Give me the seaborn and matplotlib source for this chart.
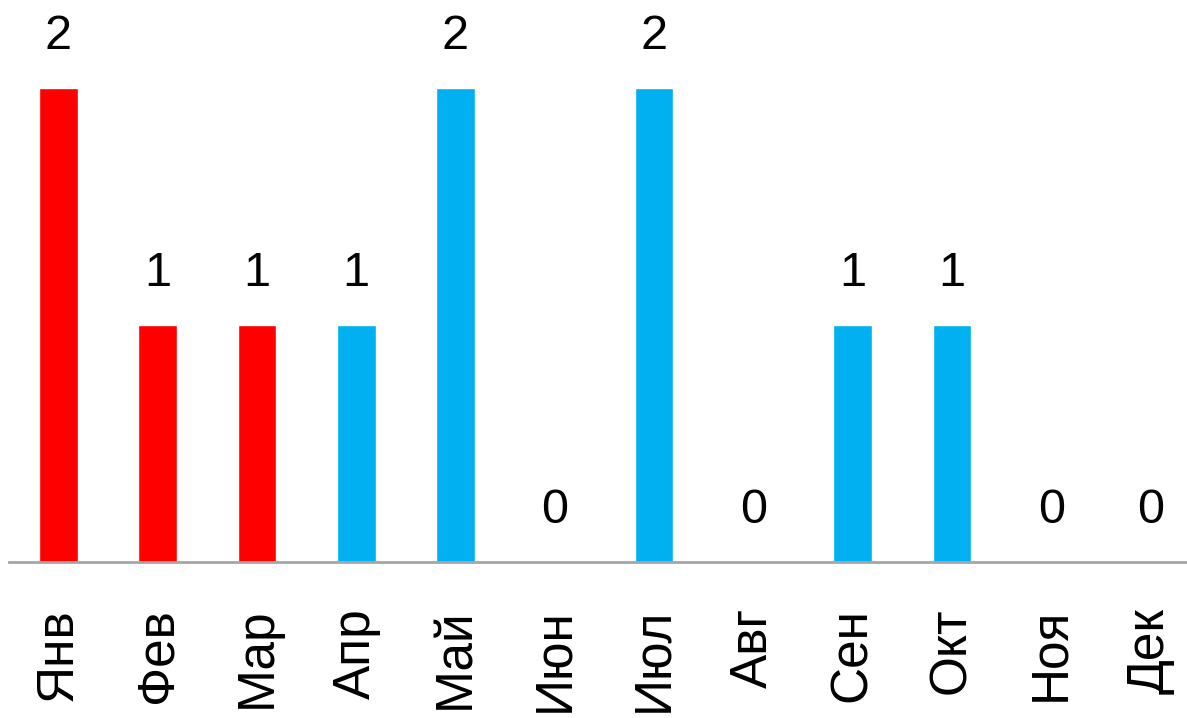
import matplotlib
matplotlib.use("Agg")
import matplotlib.pyplot as plt
import seaborn as sns
import pandas as pd

months = ["Янв", "Фев", "Мар", "Апр", "Май", "Июн",
          "Июл", "Авг", "Сен", "Окт", "Ноя", "Дек"]
counts = [2, 1, 1, 1, 2, 0, 2, 0, 1, 1, 0, 0]
bar_colors = ["#FF0000"] * 3 + ["#00B0F0"] * 9

sns.set_theme(style="white")
plt.rcParams["font.family"] = ["Liberation Sans", "DejaVu Sans"]
plt.rcParams["text.color"] = "black"
plt.rcParams["xtick.color"] = "black"

df = pd.DataFrame({"month": months, "count": counts})

fig = plt.figure(figsize=(11.87, 7.18), dpi=100)
ax = fig.add_axes([0.0074, 0.2173, 1.0036, 0.7827])

sns.barplot(data=df, x="month", y="count", hue="month", palette=bar_colors,
            legend=False, width=0.39, saturation=1, ax=ax)

for cont in ax.containers:
    ax.bar_label(cont, fmt="%d", padding=21, fontsize=35, color="black")

ax.set_ylim(0, 2.371)
ax.set_xlim(-0.5, 11.5)
ax.set_xlabel("")
ax.set_ylabel("")
ax.set_yticks([])
ax.tick_params(axis="x", length=0, pad=33, labelsize=37, labelrotation=90,
               labelcolor="black")
for lbl in ax.get_xticklabels():
    lbl.set_va("top")

for side in ["left", "right", "top"]:
    ax.spines[side].set_visible(False)
ax.spines["bottom"].set_color("#A6A6A6")
ax.spines["bottom"].set_linewidth(2)

fig.savefig("out.png", dpi=100)
